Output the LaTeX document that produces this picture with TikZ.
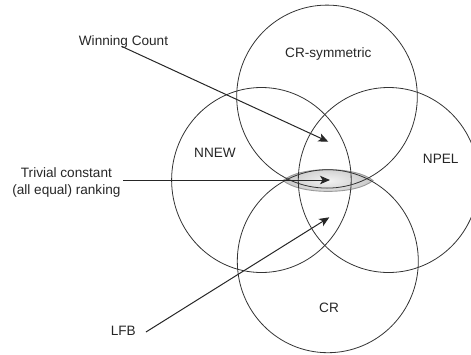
\documentclass[tikz,border=0pt]{standalone}
\usepackage{fontspec}
\setmainfont{Liberation Sans}
\usetikzlibrary{arrows.meta}
\begin{document}
\begin{tikzpicture}[x=1pt,y=-1pt,
  setcirc/.style={draw=black!80, line width=0.8pt},
  lbl/.style={font=\fontsize{13.6}{17}\selectfont, text=black!85, inner sep=0pt, align=center},
  arr/.style={draw=black!85, line width=1pt, -{Stealth[length=10pt,width=8.5pt,inset=2.5pt]}}]
\clip (0,0) rectangle (471,354);
\useasboundingbox (0,0) rectangle (471,354);
% lens
\draw[draw=black!40, line width=0.9pt, inner color=black!5, outer color=black!22]
  (283,180.5) .. controls (300,166) and (356,166) .. (373,180.5)
  .. controls (356,195) and (300,195) .. cycle;
% circles
\draw[setcirc] (327,96.6) ellipse [x radius=90.3, y radius=91.5];
\draw[setcirc] (261.4,180) ellipse [x radius=89.8, y radius=92.5];
\draw[setcirc] (388.6,180) ellipse [x radius=90.3, y radius=92.5];
\draw[setcirc] (327.8,261.2) ellipse [x radius=90.5, y radius=91.5];
% set labels
\node[lbl] (crs) at (328.3,54) {CR-symmetric};
\node[lbl] (nnew) at (215,152.7) {NNEW};
\node[lbl] (npel) at (440.7,159) {NPEL};
\node[lbl] (cr) at (329,308.3) {CR};
% annotations
\node[lbl] (wc) at (123.5,42) {Winning Count};
\node[lbl] (tc) at (66.4,182) {Trivial constant\\(all equal) ranking};
\node[lbl] (lfb) at (123.3,331) {LFB};
\coordinate (wct) at (328.3,141.7);
\coordinate (tct) at (330,180);
\coordinate (lfbt) at (329.3,217.3);
\draw[arr] ([xshift=-1.5pt,yshift=2pt]wc.south) -- (wct);
\draw[arr] (tc.east |- tct) ++(2.5pt,0) -- (tct);
\draw[arr] ([xshift=10pt,yshift=-1pt]lfb.east) -- (lfbt);
\end{tikzpicture}
\end{document}
